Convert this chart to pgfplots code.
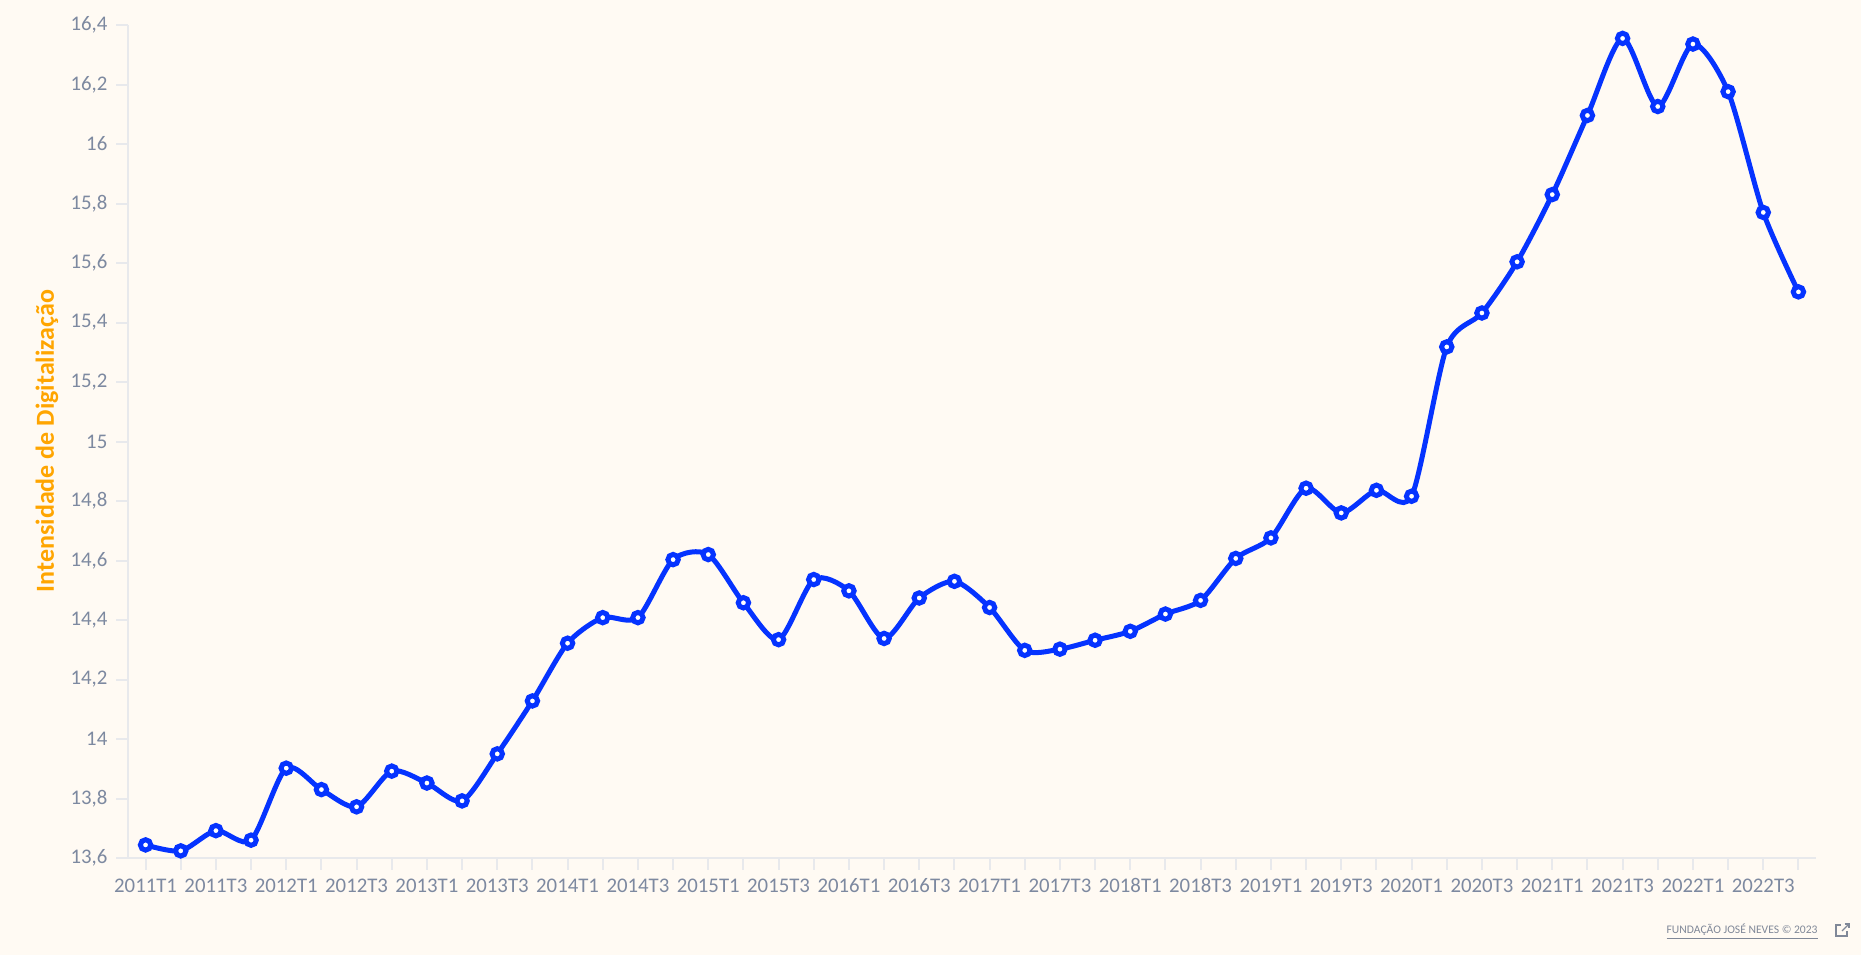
\documentclass[border=0pt]{standalone}
\usepackage{fontspec}
\setmainfont{Carlito}
\usepackage{pgfplots}
\pgfplotsset{compat=1.18}
\definecolor{bg}{RGB}{255,250,243}
\definecolor{axgray}{RGB}{232,233,236}
\definecolor{ticktxt}{RGB}{125,137,160}
\definecolor{lineblue}{RGB}{5,51,255}
\definecolor{lblorange}{RGB}{255,165,0}
\definecolor{foot}{RGB}{128,136,152}
\pgfplotstableread{
x y
0 13.644
1 13.624
2 13.692
3 13.660
4 13.902
5 13.830
6 13.772
7 13.892
8 13.852
9 13.792
10 13.950
11 14.128
12 14.322
13 14.408
14 14.408
15 14.603
16 14.620
17 14.458
18 14.334
19 14.536
20 14.498
21 14.338
22 14.474
23 14.530
24 14.442
25 14.298
26 14.302
27 14.332
28 14.362
29 14.420
30 14.466
31 14.607
32 14.676
33 14.843
34 14.760
35 14.836
36 14.816
37 15.318
38 15.432
39 15.604
40 15.830
41 16.096
42 16.355
43 16.126
44 16.336
45 16.176
46 15.770
47 15.503
}\datatable
\begin{document}
\begin{tikzpicture}[x=1pt,y=1pt]
\fill[bg] (0,0) rectangle (930.5,477.5);
\path[use as bounding box] (0,0) rectangle (930.5,477.5);
\begin{axis}[
  at={(64pt,48.5pt)}, anchor=south west,
  scale only axis, width=844pt, height=416.5pt,
  xmin=-0.5, xmax=47.5, ymin=13.6, ymax=16.4,
  axis x line*=bottom, axis y line*=left,
  axis line style={color=axgray, line width=1pt},
  tick style={color=axgray, line width=1pt},
  tick align=outside, major tick length=5.8pt,
  xtick={0,...,47},
  xticklabels={2011T1,{},2011T3,{},2012T1,{},2012T3,{},2013T1,{},2013T3,{},2014T1,{},2014T3,{},2015T1,{},2015T3,{},2016T1,{},2016T3,{},2017T1,{},2017T3,{},2018T1,{},2018T3,{},2019T1,{},2019T3,{},2020T1,{},2020T3,{},2021T1,{},2021T3,{},2022T1,{},2022T3,{}},
  ytick={13.6,13.8,14,14.2,14.4,14.6,14.8,15,15.2,15.4,15.6,15.8,16,16.2,16.4},
  /pgf/number format/use comma,
  /pgf/number format/assume math mode=true,
  yticklabel style={/pgf/number format/fixed, /pgf/number format/precision=1},
  ticklabel style={font=\fontsize{10.4}{12}\selectfont, text=ticktxt},
  xticklabel style={yshift=-1pt},
  yticklabel style={xshift=-1pt},
  clip=false,
]
\addplot[color=lineblue, line width=2.5pt, smooth, tension=0.45,
  mark=*, mark size=2.6pt,
  mark options={fill=white, draw=lineblue, line width=2.5pt}]
  table[x=x, y=y] {\datatable};
\end{axis}
\node[rotate=90, text=lblorange, font=\fontsize{13}{15}\selectfont\bfseries] at (23.5,257) {Intensidade de Digitalização};
\node[anchor=east, text=foot, font=\fontsize{5.8}{7}\selectfont, inner sep=0pt] at (909,11.5) {\underline{FUNDAÇÃO JOSÉ NEVES © 2023}};
\draw[foot, line width=0.6pt] (920.5,15) -- (918,15) -- (918,9.5) -- (923.5,9.5) -- (923.5,12);
\draw[foot, line width=0.6pt] (921,12) -- (924.5,15.5);
\draw[foot, line width=0.6pt] (922.3,15.5) -- (924.5,15.5) -- (924.5,13.3);
\end{tikzpicture}
\end{document}
